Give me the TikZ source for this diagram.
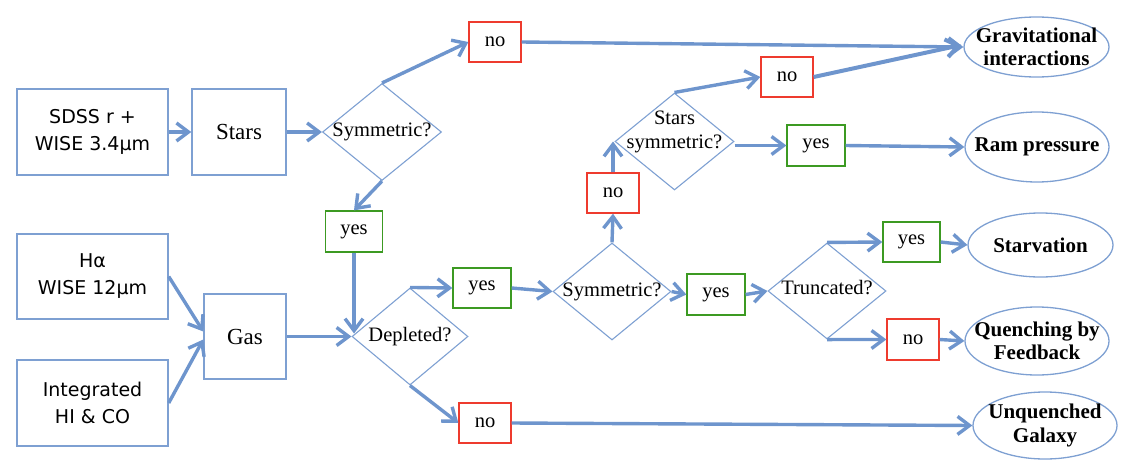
\documentclass[tikz,border=0pt]{standalone}
\usepackage{fontspec}
\setmainfont{Liberation Serif}
\newfontfamily\sansf{DejaVu Sans}
\usetikzlibrary{shapes.geometric,arrows.meta,calc}
\definecolor{lblue}{HTML}{6E95CD}
\definecolor{bblue}{HTML}{7EA0D2}
\definecolor{nored}{HTML}{EE3B2E}
\definecolor{yesgreen}{HTML}{3C9A22}
\tikzset{
  srcbox/.style={draw=bblue,line width=1.4pt,rectangle,inner sep=0pt,align=center,font=\sansf\fontsize{19}{27}\selectfont},
  stepbox/.style={draw=bblue,line width=1.4pt,rectangle,inner sep=0pt,align=center,font=\fontsize{23}{27}\selectfont},
  dia/.style={draw=bblue,line width=1.1pt,diamond,inner sep=0pt,minimum width=119pt,minimum height=97pt},
  qfont/.style={font=\fontsize{20.5}{24}\selectfont,align=center},
  nobox/.style={draw=nored,line width=1.3pt,rectangle,inner sep=0pt,minimum width=52pt,minimum height=40pt,font=\fontsize{20.5}{24}\selectfont},
  yesbox/.style={draw=yesgreen,line width=1.3pt,rectangle,inner sep=0pt,minimum width=57pt,minimum height=41pt,font=\fontsize{20.5}{24}\selectfont},
  outc/.style={draw=bblue,line width=1.3pt,ellipse,inner sep=0pt,minimum width=145pt},
  ofont/.style={font=\bfseries\fontsize{21}{23.5}\selectfont,align=center},
  conn/.style={draw=lblue,line width=3.4pt,-{Straight Barb[length=12pt,width=18pt]}},
}
\begin{document}
\begin{tikzpicture}[x=1pt,y=-1pt]
\useasboundingbox (0,0) rectangle (1135,463);
% sources
\node[srcbox,minimum width=151pt,minimum height=86pt] (sdss) at (92.5,132) {SDSS r +\\WISE 3.4µm};
\node[srcbox,minimum width=151pt,minimum height=85pt] (ha) at (92.5,276.5) {Hα\\WISE 12µm};
\node[srcbox,minimum width=151pt,minimum height=86pt] (integ) at (92.5,403) {Integrated\\HI \& CO};
\node[stepbox,minimum width=94pt,minimum height=86pt] (stars) at (239,132) {Stars};
\node[stepbox,minimum width=82pt,minimum height=85pt] (gas) at (245,336.5) {Gas};
% diamonds
\node[dia,label={[qfont]center:Symmetric?}] (sym1) at (382,132) {};
\node[dia,minimum width=116pt,label={[qfont]center:Depleted?}] (dep) at (410,336.5) {};
\node[dia,minimum width=118pt,label={[qfont]center:Symmetric?}] (sym2) at (612,291.5) {};
\node[dia,label={[qfont,yshift=10pt]center:Stars\\symmetric?}] (ss) at (674.5,141.5) {};
\node[dia,minimum width=118pt,minimum height=96pt,label={[qfont,yshift=3pt]center:Truncated?}] (trunc) at (827,291) {};
% yes / no
\node[nobox] (no1) at (495,42) {no};
\node[yesbox] (yes1) at (354,231.5) {yes};
\node[yesbox,minimum width=58pt,minimum height=40pt] (yes2) at (482,288) {yes};
\node[nobox] (no2) at (485,423) {no};
\node[nobox] (no4) at (613,193) {no};
\node[nobox] (no3) at (787,77) {no};
\node[yesbox,minimum width=58pt] (yes3) at (816,145.5) {yes};
\node[yesbox,minimum width=58pt] (yes4) at (716,294.5) {yes};
\node[yesbox,minimum height=40pt] (yes5) at (911.5,242) {yes};
\node[nobox,minimum height=41pt] (no5) at (913,339.5) {no};
% outcomes
\node[outc,minimum height=60pt,label={[ofont]center:Gravitational\\interactions}] (grav) at (1036.5,47) {};
\node[outc,minimum width=144pt,minimum height=70pt,label={[ofont]center:Ram pressure}] (ram) at (1037,147) {};
\node[outc,minimum height=64pt,label={[ofont]center:Starvation}] (starv) at (1040.5,245) {};
\node[outc,minimum width=144pt,minimum height=68pt,label={[ofont]center:Quenching by\\Feedback}] (quench) at (1037,341) {};
\node[outc,minimum width=144pt,minimum height=67pt,label={[ofont]center:Unquenched\\Galaxy}] (unq) at (1045,425.5) {};
% connectors
\draw[conn] (sdss.east) -- (stars.west);
\draw[conn] (stars.east) -- (sym1.west);
\draw[conn] (sym1.north) -- (no1.west);
\draw[conn] (sym1.south) -- (yes1.north);
\draw[conn] (yes1.south) -- ($(yes1.south |- dep.west)+(0,-3)$);
\draw[conn] (ha.east) -- ($(gas.west)+(0,-5)$);
\draw[conn] (integ.east) -- ($(gas.west)+(0,3)$);
\draw[conn] (gas.east) -- (dep.west);
\draw[conn] (dep.north) -- (yes2.west);
\draw[conn] (dep.south) -- (no2.west);
\draw[conn] (yes2.east) -- (sym2.west);
\draw[conn] (no2.east) -- (unq.west);
\draw[conn] (no1.east) -- (grav.west);
\draw[conn] (sym2.north) -- (no4.south);
\draw[conn] (no4.north) -- (no4.north |- ss.west);
\draw[conn] (ss.north) -- (no3.west);
\draw[conn] (yes3.west -| ss.east) -- (yes3.west);
\draw[conn] (yes3.east) -- (ram.west);
\draw[conn,line width=4pt] (no3.east) -- ($(grav.west)+(-2,-2)$);
\draw[conn] (sym2.east) -- (yes4.west);
\draw[conn] (yes4.east) -- (trunc.west);
\draw[conn] (trunc.north) -- (yes5.west);
\draw[conn] (yes5.east) -- (starv.west);
\draw[conn] (trunc.south) -- (no5.west);
\draw[conn] (no5.east) -- (quench.west);
\end{tikzpicture}
\end{document}
